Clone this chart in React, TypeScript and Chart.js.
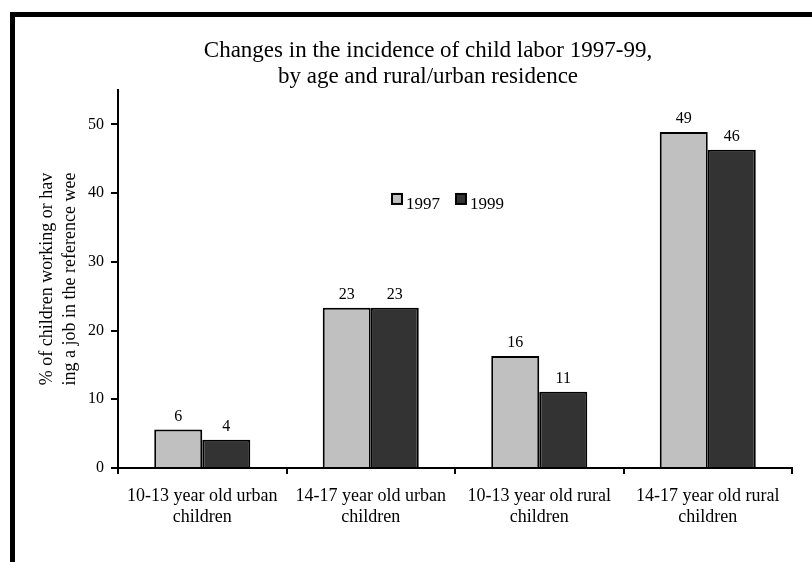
import React, { useEffect, useRef } from 'react';
import { Chart, registerables } from 'chart.js';

Chart.register(...registerables);

const categories: string[][] = [
  ['10-13 year old urban', 'children'],
  ['14-17 year old urban', 'children'],
  ['10-13 year old rural', 'children'],
  ['14-17 year old rural', 'children'],
];
const seriesNames = ['1997', '1999'];
const values1997 = [5.6, 23.3, 16.3, 48.9];
const values1999 = [4.1, 23.3, 11.1, 46.3];
const yMin = 0;
const yMax = 55;
const yStep = 10;
const titleLines = ['Changes in the incidence of child labor 1997-99,', 'by age and rural/urban residence'];
const yTitleLines = ['% of children working or hav', 'ing a job in the reference wee'];

const FONT = '"Liberation Serif", "Times New Roman", serif';
const COLORS = ['#c0c0c0', '#333333'];

const titlePlugin = {
  id: 'customTitle',
  afterDraw(chart: any) {
    const { ctx } = chart;
    ctx.save();
    ctx.font = `23px ${FONT}`;
    ctx.fillStyle = '#000';
    ctx.textAlign = 'center';
    ctx.textBaseline = 'middle';
    titleLines.forEach((line, i) => ctx.fillText(line, 413, 34 + i * 26));
    ctx.restore();
  },
};

const valueLabelPlugin = {
  id: 'valueLabels',
  afterDatasetsDraw(chart: any) {
    const { ctx } = chart;
    ctx.save();
    ctx.font = `16px ${FONT}`;
    ctx.fillStyle = '#000';
    ctx.textAlign = 'center';
    ctx.textBaseline = 'alphabetic';
    chart.data.datasets.forEach((ds: any, di: number) => {
      const meta = chart.getDatasetMeta(di);
      meta.data.forEach((el: any, i: number) => {
        ctx.fillText(String(Math.round(ds.data[i])), el.x, el.y - 9);
      });
    });
    ctx.restore();
  },
};

const legendPlugin = {
  id: 'innerLegend',
  afterDraw(chart: any) {
    const { ctx, chartArea } = chart;
    const w = chartArea.right - chartArea.left;
    const h = chartArea.bottom - chartArea.top;
    let x = chartArea.left + 0.4065 * w;
    const y = chartArea.top + 0.275 * h;
    const box = 10;
    ctx.save();
    ctx.font = `17px ${FONT}`;
    ctx.textBaseline = 'alphabetic';
    ctx.textAlign = 'left';
    chart.data.datasets.forEach((ds: any) => {
      ctx.fillStyle = ds.backgroundColor;
      ctx.fillRect(x, y, box, box);
      ctx.strokeStyle = '#000';
      ctx.lineWidth = 2;
      ctx.strokeRect(x, y, box, box);
      ctx.fillStyle = '#000';
      ctx.fillText(ds.label, x + box + 4, y + 15);
      x += box + 4 + ctx.measureText(ds.label).width + 16;
    });
    ctx.restore();
  },
};

export default function App() {
  const canvasRef = useRef<HTMLCanvasElement | null>(null);

  useEffect(() => {
    if (!canvasRef.current) return;
    const chart = new Chart(canvasRef.current, {
      type: 'bar',
      data: {
        labels: categories,
        datasets: [
          {
            label: seriesNames[0],
            data: values1997,
            backgroundColor: COLORS[0],
            borderColor: '#000',
            borderWidth: 2,
          },
          {
            label: seriesNames[1],
            data: values1999,
            backgroundColor: COLORS[1],
            borderColor: '#000',
            borderWidth: 2,
          },
        ],
      },
      options: {
        responsive: false,
        animation: false,
        categoryPercentage: 0.57,
        barPercentage: 1,
        layout: { padding: { left: 19, right: 20, top: 73, bottom: 0 } },
        plugins: {
          legend: { display: false },
          title: { display: false },
          tooltip: { enabled: false },
        },
        scales: {
          x: {
            grid: {
              display: true,
              drawOnChartArea: false,
              drawTicks: true,
              tickLength: 6,
              color: '#000',
              lineWidth: 2,
              offset: true,
            },
            border: { display: true, color: '#000', width: 2 },
            ticks: {
              color: '#000',
              font: { family: FONT, size: 18, lineHeight: 1.17 },
              padding: 12,
              maxRotation: 0,
              autoSkip: false,
            },
            afterFit: (s: any) => {
              s.height = 94;
            },
          },
          y: {
            min: yMin,
            max: yMax,
            ticks: {
              stepSize: yStep,
              includeBounds: false,
              color: '#000',
              font: { family: FONT, size: 16 },
              padding: 7,
            },
            grid: {
              drawOnChartArea: false,
              drawTicks: true,
              tickLength: 7,
              color: '#000',
              lineWidth: 2,
            },
            border: { display: true, color: '#000', width: 2 },
            title: {
              display: true,
              text: yTitleLines,
              color: '#000',
              font: { family: FONT, size: 18, lineHeight: 1.28 },
              padding: { top: 2, bottom: 0 },
            },
            afterFit: (s: any) => {
              s.width = 84;
            },
          },
        },
      },
      plugins: [titlePlugin, valueLabelPlugin, legendPlugin],
    });
    return () => chart.destroy();
  }, []);

  return (
    <div
      style={{
        position: 'absolute',
        left: 10,
        top: 12,
        borderTop: '5px solid #000',
        borderLeft: '5px solid #000',
        background: '#fff',
      }}
    >
      <canvas ref={canvasRef} width={797} height={545} style={{ display: 'block' }} />
    </div>
  );
}
